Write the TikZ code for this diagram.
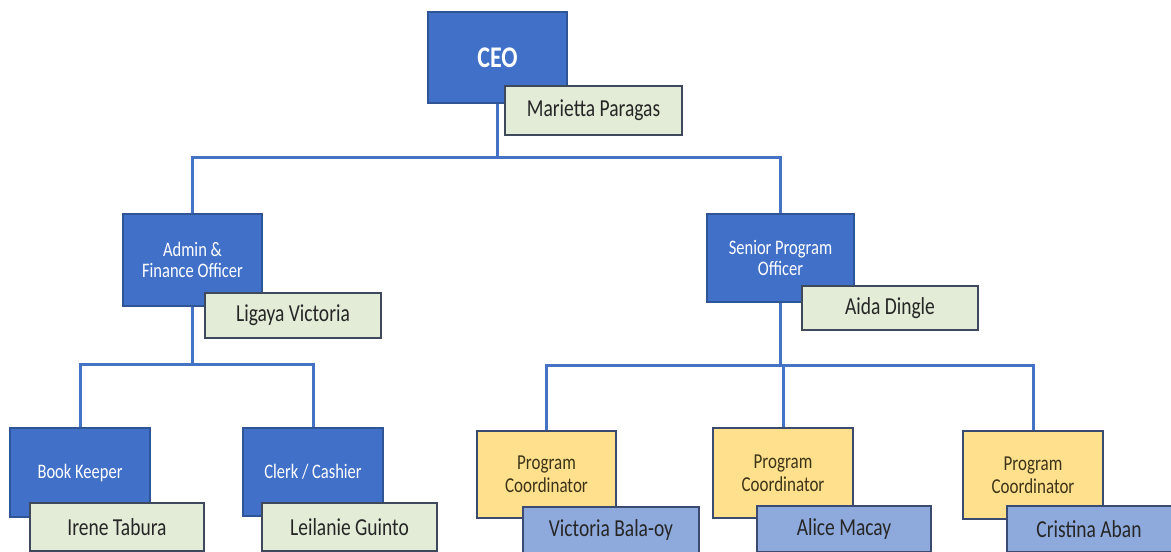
\documentclass[tikz,border=0pt]{standalone}
\usepackage{fontspec}
\setmainfont{Carlito}
\usetikzlibrary{backgrounds}
\definecolor{boxblue}{HTML}{4070C8}
\definecolor{boxblueD}{HTML}{2F5597}
\definecolor{namegreen}{HTML}{E3ECD7}
\definecolor{nameborder}{HTML}{3E4A5C}
\definecolor{pcyellow}{HTML}{FFE08C}
\definecolor{pcborder}{HTML}{3A4A70}
\definecolor{lightblue}{HTML}{8EAADC}
\definecolor{linkblue}{HTML}{4472C4}
\definecolor{pctext}{HTML}{3D3418}
\newcommand\vs[1]{\scalebox{1}[1.25]{#1}}
\tikzset{
  rolebox/.style={draw=boxblueD, line width=1.5pt, fill=boxblue, text=white, align=center, inner sep=0pt,
    font=\fontsize{16.5}{21}\selectfont},
  pcbox/.style={draw=pcborder, line width=1.5pt, fill=pcyellow, text=pctext, align=center, inner sep=0pt,
    font=\fontsize{17}{23}\selectfont},
  namebox/.style={draw=nameborder, line width=1.5pt, fill=namegreen, text=black!85, inner sep=0pt,
    font=\fontsize{19.5}{22}\selectfont},
  pcname/.style={draw=pcborder, line width=1.5pt, fill=lightblue, text=black!85, inner sep=0pt,
    font=\fontsize{19.5}{22}\selectfont},
  conn/.style={draw=linkblue, line width=3pt},
}
\begin{document}
\begin{tikzpicture}[x=1pt,y=-1pt]
\clip (0,0) rectangle (1171,552);
% level 1
\node[rolebox, minimum width=139pt, minimum height=91pt, font=\fontsize{24}{26}\selectfont\bfseries] (ceo) at (497.5,57.5) {\vs{CEO}};
\node[namebox, minimum width=177pt, minimum height=49pt] (ceoN) at (593.5,110.5) {\vs{Marietta Paragas}};
% level 2
\node[rolebox, minimum width=139pt, minimum height=92pt] (admin) at (192.5,260) {\vs{Admin \&}\\\vs{Finance Officer}};
\node[namebox, minimum width=176pt, minimum height=45pt] (adminN) at (293,315.5) {\vs{Ligaya Victoria}};
\node[rolebox, minimum width=147pt, minimum height=88pt] (senior) at (780.5,258) {\vs{Senior Program}\\\vs{Officer}};
\node[namebox, minimum width=176pt, minimum height=44pt] (seniorN) at (890,308) {\vs{Aida Dingle}};
% level 3 left
\node[rolebox, minimum width=140pt, minimum height=89pt] (book) at (80,472.5) {\vs{Book Keeper}};
\node[namebox, minimum width=174pt, minimum height=48pt] (bookN) at (117,527) {\vs{Irene Tabura}};
\node[rolebox, minimum width=140pt, minimum height=88pt] (clerk) at (313,472) {\vs{Clerk / Cashier}};
\node[namebox, minimum width=175pt, minimum height=48pt] (clerkN) at (349.5,527) {\vs{Leilanie Guinto}};
% level 3 right
\node[pcbox, minimum width=139pt, minimum height=87pt] (pc1) at (546.5,474.5) {\vs{Program}\\\vs{Coordinator}};
\node[pcname, minimum width=176pt, minimum height=46pt] (pc1N) at (611,530) {\vs{Victoria Bala-oy}};
\node[pcbox, minimum width=140pt, minimum height=90pt] (pc2) at (783,473) {\vs{Program}\\\vs{Coordinator}};
\node[pcname, minimum width=174pt, minimum height=46pt] (pc2N) at (844,529) {\vs{Alice Macay}};
\node[pcbox, minimum width=140pt, minimum height=88pt] (pc3) at (1033,475) {\vs{Program}\\\vs{Coordinator}};
\node[pcname, minimum width=176pt, minimum height=46pt] (pc3N) at (1095,529) {\hspace*{-12pt}\vs{Cristina Aban}};
% connectors
\coordinate (busTop) at (0,157);
\coordinate (busAdmin) at (0,364);
\coordinate (busSenior) at (0,365);
\begin{scope}[on background layer]
\fill[white] (0,0) rectangle (1171,552);
\draw[conn] (ceo.south) -- (ceo.south |- busTop) -| (admin.north);
\draw[conn] (ceo.south |- busTop) -| (senior.north);
\draw[conn] (admin.south) -- (admin.south |- busAdmin) -| (book.north);
\draw[conn] (admin.south |- busAdmin) -| (clerk.north);
\draw[conn] (senior.south) -- (senior.south |- busSenior) -| (pc1.north);
\draw[conn] (senior.south |- busSenior) -| (pc3.north);
\draw[conn] (senior.south |- busSenior) -| (pc2.north);
\end{scope}
\end{tikzpicture}
\end{document}
